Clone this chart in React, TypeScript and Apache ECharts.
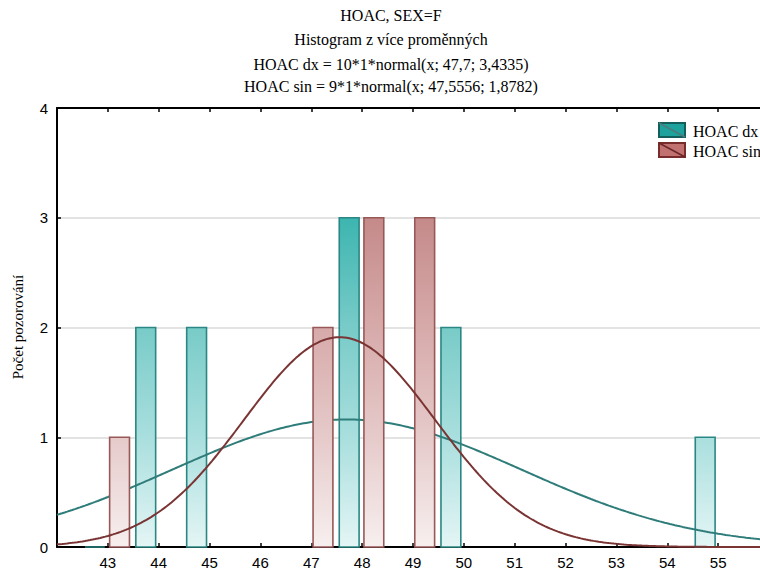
import React, { useEffect, useRef } from "react";
import * as echarts from "echarts";

// ---- data ----
const titleLines = [
  "HOAC, SEX=F",
  "Histogram z více proměnných",
  "HOAC dx = 10*1*normal(x; 47,7; 3,4335)",
  "HOAC sin = 9*1*normal(x; 47,5556; 1,8782)",
];
const yAxisTitle = "Počet pozorování";
const seriesNames = ["HOAC dx", "HOAC sin"];

const dxValues = [43, 44, 45, 48, 50, 55];
const dxCounts = [0, 2, 2, 3, 2, 1];
const sinValues = [43, 47, 48, 49];
const sinCounts = [1, 2, 3, 3];

const dxFit = { n: 10, mean: 47.7, sd: 3.4335 };
const sinFit = { n: 9, mean: 47.5556, sd: 1.8782 };

const X_MIN = 42;
const X_MAX = 56;
const Y_MIN = 0;
const Y_MAX = 4;

// ---- styles ----
const SERIF = '"Liberation Serif", "Times New Roman", serif';
const SANS = '"Liberation Sans", Arial, sans-serif';
const BAR_W = 0.39;
const DX_OFFSET = -0.255;
const SIN_OFFSET = 0.23;

const dxStops = [
  { offset: 0, color: "#e4f5f5" },
  { offset: 0.25, color: "#a9dfde" },
  { offset: 0.5, color: "#78cbc8" },
  { offset: 0.75, color: "#3db5b0" },
  { offset: 1, color: "#18a29d" },
];
const sinStops = [
  { offset: 0, color: "#f7efef" },
  { offset: 0.25, color: "#e6caca" },
  { offset: 0.5, color: "#d7aaaa" },
  { offset: 0.75, color: "#c58a8a" },
  { offset: 1, color: "#b87272" },
];

function normalCurve(fit: { n: number; mean: number; sd: number }) {
  const pts: number[][] = [];
  const step = 0.05;
  for (let i = 0; i <= Math.round((X_MAX - X_MIN) / step); i++) {
    const x = X_MIN + i * step;
    const z = (x - fit.mean) / fit.sd;
    const y = (fit.n * 1 * Math.exp(-0.5 * z * z)) / (fit.sd * Math.sqrt(2 * Math.PI));
    pts.push([x, y]);
  }
  return pts;
}

function barRenderer(offset: number, stops: any[], stroke: string) {
  return (params: any, api: any) => {
    const x = api.value(0) + offset;
    const v = api.value(1);
    const p0 = api.coord([x - BAR_W / 2, v]);
    const p1 = api.coord([x + BAR_W / 2, 0]);
    const yBase = api.coord([X_MIN, Y_MIN])[1];
    const yTop = api.coord([X_MIN, Y_MAX])[1];
    return {
      type: "rect",
      shape: { x: p0[0], y: p0[1], width: p1[0] - p0[0], height: p1[1] - p0[1] },
      style: {
        fill: { type: "linear", x: 0, y: yBase, x2: 0, y2: yTop, global: true, colorStops: stops },
        stroke,
        lineWidth: 1.6,
      },
    };
  };
}

export default function App() {
  const ref = useRef<HTMLDivElement>(null);
  useEffect(() => {
    if (!ref.current) return;
    const chart = echarts.init(ref.current, null, { renderer: "svg" });
    const axisLineStyle = { color: "#000", width: 2 };
    const tickStyle = { color: "#000", width: 1.5 };
    const titleY = [15, 39, 64, 86];
    chart.setOption({
      animation: false,
      backgroundColor: "#fff",
      grid: { left: 57, top: 108, bottom: 26, right: 31, containLabel: false },
      xAxis: [
        {
          type: "value",
          min: X_MIN,
          max: X_MAX,
          interval: 1,
          position: "bottom",
          axisLine: { show: true, onZero: false, lineStyle: axisLineStyle },
          axisTick: { show: true, inside: true, length: 4, lineStyle: tickStyle },
          axisLabel: {
            fontFamily: SANS,
            fontSize: 15,
            color: "#000",
            margin: 8,
            showMinLabel: false,
            showMaxLabel: false,
          },
          splitLine: { show: false },
        },
        {
          type: "value",
          min: X_MIN,
          max: X_MAX,
          interval: 1,
          position: "top",
          axisLine: { show: true, onZero: false, lineStyle: axisLineStyle },
          axisTick: { show: true, inside: true, length: 4, lineStyle: tickStyle },
          axisLabel: { show: false },
          splitLine: { show: false },
        },
      ],
      yAxis: [
        {
          type: "value",
          min: Y_MIN,
          max: Y_MAX,
          interval: 1,
          position: "left",
          axisLine: { show: true, onZero: false, lineStyle: axisLineStyle },
          axisTick: { show: true, inside: true, length: 4, lineStyle: tickStyle },
          axisLabel: { fontFamily: SANS, fontSize: 15, color: "#000", margin: 9 },
          splitLine: { show: true, lineStyle: { color: "#dadada", width: 1.5 } },
        },
        {
          type: "value",
          min: Y_MIN,
          max: Y_MAX,
          interval: 1,
          position: "right",
          axisLine: { show: true, onZero: false, lineStyle: axisLineStyle },
          axisTick: { show: true, inside: true, length: 4, lineStyle: tickStyle },
          axisLabel: { show: false },
          splitLine: { show: false },
        },
      ],
      series: [
        {
          type: "custom",
          name: seriesNames[0],
          z: 2,
          xAxisIndex: 0,
          yAxisIndex: 0,
          encode: { x: 0, y: 1 },
          data: dxValues.map((v, i) => [v, dxCounts[i]]),
          renderItem: barRenderer(DX_OFFSET, dxStops, "#2a8783"),
        },
        {
          type: "line",
          name: seriesNames[0] + " fit",
          z: 3,
          data: normalCurve(dxFit),
          showSymbol: false,
          lineStyle: { color: "#2f7d7a", width: 2 },
        },
        {
          type: "custom",
          name: seriesNames[1],
          z: 4,
          encode: { x: 0, y: 1 },
          data: sinValues.map((v, i) => [v, sinCounts[i]]),
          renderItem: barRenderer(SIN_OFFSET, sinStops, "#985858"),
        },
        {
          type: "line",
          name: seriesNames[1] + " fit",
          z: 5,
          data: normalCurve(sinFit),
          showSymbol: false,
          lineStyle: { color: "#7a3434", width: 2 },
        },
      ],
      graphic: [
        ...titleLines.map((t, i) => ({
          type: "text",
          x: 391,
          y: titleY[i],
          style: {
            text: t,
            font: `16px ${SERIF}`,
            fill: "#000",
            align: "center",
            verticalAlign: "middle",
          },
        })),
        {
          type: "text",
          x: 18,
          y: 327,
          rotation: Math.PI / 2,
          style: {
            text: yAxisTitle,
            font: `15px ${SERIF}`,
            fill: "#000",
            align: "center",
            verticalAlign: "middle",
          },
        },
        // legend
        {
          type: "rect",
          shape: { x: 659, y: 123, width: 26, height: 14 },
          style: { fill: "#1ea29e", stroke: "#125f5c", lineWidth: 2 },
        },
        {
          type: "line",
          shape: { x1: 659, y1: 123, x2: 685, y2: 137 },
          style: { stroke: "#4d7b79", lineWidth: 1.5 },
        },
        {
          type: "text",
          x: 693,
          y: 131,
          style: { text: seriesNames[0], font: `16px ${SERIF}`, fill: "#000", verticalAlign: "middle" },
        },
        {
          type: "rect",
          shape: { x: 659, y: 143, width: 26, height: 14 },
          style: { fill: "#c27171", stroke: "#7a2c2c", lineWidth: 2 },
        },
        {
          type: "line",
          shape: { x1: 659, y1: 143, x2: 685, y2: 157 },
          style: { stroke: "#6a2727", lineWidth: 1.5 },
        },
        {
          type: "text",
          x: 693,
          y: 151,
          style: { text: seriesNames[1], font: `16px ${SERIF}`, fill: "#000", verticalAlign: "middle" },
        },
      ],
    });
    return () => chart.dispose();
  }, []);
  return (
    <div
      style={{
        position: "fixed",
        left: 0,
        top: 0,
        width: 760,
        height: 573,
        overflow: "hidden",
        background: "#fff",
      }}
    >
      <div ref={ref} style={{ width: 800, height: 573 }} />
    </div>
  );
}
